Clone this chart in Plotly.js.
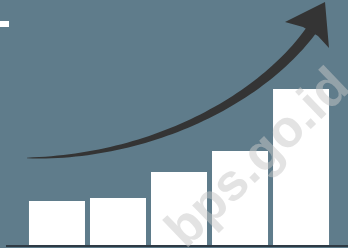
<!DOCTYPE html>
<html>
<head>
<meta charset="utf-8">
<script src="https://cdn.plot.ly/plotly-3.0.1.min.js"></script>
<style>html,body{margin:0;padding:0;background:#5f7c8b;}#chart{width:348px;height:248px;}</style>
</head>
<body>
<div id="chart"></div>
<script>
// Data
var categories = ["1", "2", "3", "4", "5"];
var values = [44, 47, 73, 94, 156];
var watermarkText = "bps.go.id";

var W = 348, H = 245; // plot area in px (margins: l=r=t=0, b=3)
function px(x){ return x / W; }
function py(y){ return (H - y) / H; }

// Decorative arrow (tapered curved shaft + head)
var P0=[27,158], P1=[150,158], P2=[262,100], P3=[313,28];
function bez(t){
  var u=1-t;
  return [u*u*u*P0[0]+3*u*u*t*P1[0]+3*u*t*t*P2[0]+t*t*t*P3[0],
          u*u*u*P0[1]+3*u*u*t*P1[1]+3*u*t*t*P2[1]+t*t*t*P3[1]];
}
function dbez(t){
  var u=1-t;
  return [3*u*u*(P1[0]-P0[0])+6*u*t*(P2[0]-P1[0])+3*t*t*(P3[0]-P2[0]),
          3*u*u*(P1[1]-P0[1])+6*u*t*(P2[1]-P1[1])+3*t*t*(P3[1]-P2[1])];
}
var N=60, up=[], lo=[];
for (var i=0;i<=N;i++){
  var t=i/N, p=bez(t), d=dbez(t), L=Math.hypot(d[0],d[1]);
  var nx=-d[1]/L, ny=d[0]/L, w=(0.6+10.5*Math.pow(t,0.7))/2;
  up.push([p[0]+nx*w, p[1]+ny*w]);
  lo.push([p[0]-nx*w, p[1]-ny*w]);
}
var pts = up.concat(lo.reverse());
var shaft = "M" + pts.map(function(q){return px(q[0]).toFixed(5)+","+py(q[1]).toFixed(5);}).join(" L") + " Z";
var headPts = [[285,22],[325,2],[329,48],[318,36],[303,27]];
var head = "M" + headPts.map(function(q){return px(q[0]).toFixed(5)+","+py(q[1]).toFixed(5);}).join(" L") + " Z";

var trace = {
  type: "bar",
  x: categories,
  y: values,
  marker: {color: "#ffffff", line: {width: 0}},
  hoverinfo: "skip"
};

var layout = {
  width: 348, height: 248,
  margin: {l: 0, r: 0, t: 0, b: 3, pad: 0},
  paper_bgcolor: "#5f7c8b",
  plot_bgcolor: "#5f7c8b",
  bargap: 0.082,
  showlegend: false,
  xaxis: {type: "category", range: [-0.934, 4.770], visible: false, fixedrange: true},
  yaxis: {range: [0, 245], visible: false, fixedrange: true},
  shapes: [
    {type: "line", xref: "paper", yref: "paper", x0: 6/W, x1: 1, y0: -1/H, y1: -1/H,
     line: {color: "#2e3a44", width: 2}},
    {type: "rect", xref: "paper", yref: "paper", x0: 0, x1: px(9), y0: py(27), y1: py(21),
     fillcolor: "#ffffff", line: {width: 0}},
    {type: "path", xref: "paper", yref: "paper", path: shaft, fillcolor: "#343434", line: {width: 0}},
    {type: "path", xref: "paper", yref: "paper", path: head, fillcolor: "#343434", line: {width: 0}}
  ],
  annotations: [
    {text: watermarkText, xref: "paper", yref: "paper", x: px(256), y: py(157),
     showarrow: false, textangle: -44, xanchor: "center", yanchor: "middle",
     font: {family: "Liberation Sans, Arial, sans-serif", size: 52, color: "rgba(200,200,200,0.5)", weight: "bold"}}
  ]
};

Plotly.newPlot("chart", [trace], layout, {staticPlot: true, displayModeBar: false});
</script>
</body>
</html>
